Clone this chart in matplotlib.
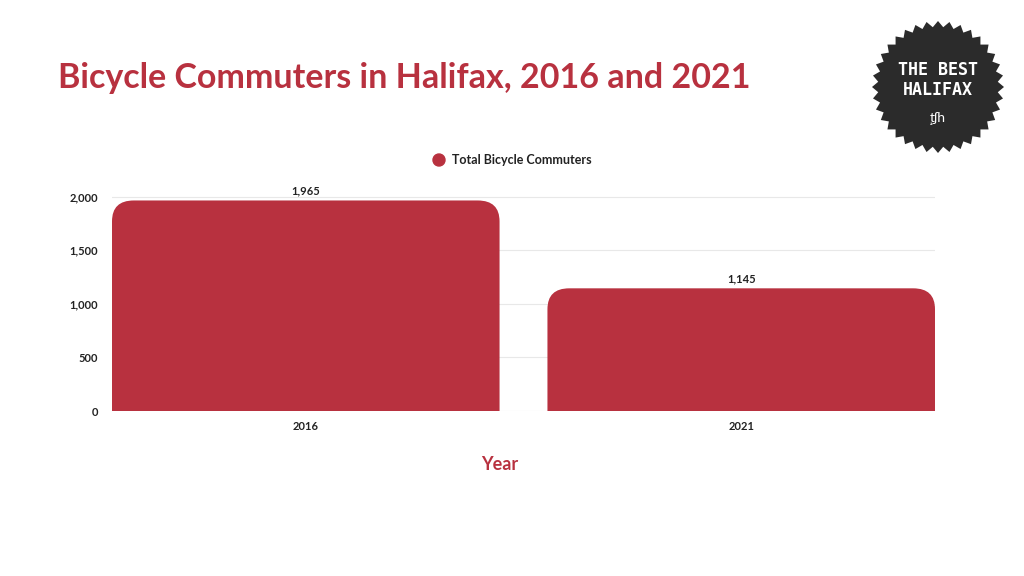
import matplotlib
matplotlib.use("Agg")
import matplotlib.pyplot as plt
import numpy as np
from matplotlib.patches import FancyBboxPatch, Polygon, Ellipse

years = ["2016", "2021"]
commuters = [1965, 1145]
yticks = [0, 500, 1000, 1500, 2000]

RED = "#B8313F"
plt.rcParams["font.family"] = ["Lato", "DejaVu Sans"]

fig = plt.figure(figsize=(10.24, 5.76), dpi=100)
ax = fig.add_axes([112 / 1024, 1 - 411 / 576, 823 / 1024, 225 / 576])

width = 0.89
rx = 0.05
ry = 195
for i, v in enumerate(commuters):
    p = FancyBboxPatch((i - width / 2, -ry * 2), width, v + ry * 2,
                       boxstyle=f"round,pad=0,rounding_size={rx}",
                       mutation_aspect=ry / rx, facecolor=RED, edgecolor="none",
                       zorder=3)
    ax.add_patch(p)
    ax.text(i, v + 40, f"{v:,}", ha="center", va="bottom", fontsize=8,
            fontweight="bold", color="#222222")

ax.set_xlim(-0.445, 1.445)
ax.set_ylim(0, 2100)
ax.set_xticks(range(len(years)))
ax.set_xticklabels(years, fontsize=8, fontweight="bold", color="#222222")
ax.set_yticks(yticks)
ax.set_yticklabels([f"{t:,}" for t in yticks], fontsize=8, fontweight="bold",
                   color="#222222")
ax.tick_params(axis="y", length=0, pad=10)
ax.tick_params(axis="x", length=0, pad=7)
ax.grid(axis="y", color="#e8e8e8", linewidth=0.8, zorder=0)
for s in ax.spines.values():
    s.set_visible(False)

fig.text(500 / 1024, 1 - 465 / 576, "Year", fontsize=13, fontweight="bold",
         color=RED, ha="center", va="center")

fig.text(58 / 1024, 1 - 78 / 576, "Bicycle Commuters in Halifax, 2016 and 2021",
         fontsize=24.5, fontweight="bold", color=RED, va="center")

# legend
fig.patches.append(Ellipse((439 / 1024, 1 - 160 / 576), 12 / 1024, 12 / 576,
                           transform=fig.transFigure, color=RED))
fig.text(452 / 1024, 1 - 160 / 576, "Total Bicycle Commuters", fontsize=9,
         fontweight="bold", color="#222222", va="center")

# badge
cx, cy = 938, 87
n = 36
ang = np.linspace(0, 2 * np.pi, 2 * n, endpoint=False)
rad = np.where(np.arange(2 * n) % 2 == 0, 66, 60)
pts = np.column_stack([(cx + rad * np.cos(ang)) / 1024,
                       1 - (cy + rad * np.sin(ang)) / 576])
fig.patches.append(Polygon(pts, closed=True, transform=fig.transFigure,
                           facecolor="#2b2b2b", edgecolor="none"))
fig.text(cx / 1024, 1 - 70 / 576, "THE BEST", fontsize=12, color="white",
         ha="center", va="center", family="DejaVu Sans Mono", fontweight="bold")
fig.text(cx / 1024, 1 - 90 / 576, "HALIFAX", fontsize=12, color="white",
         ha="center", va="center", family="DejaVu Sans Mono", fontweight="bold")
fig.text(cx / 1024, 1 - 118 / 576, "t\u0327\u0283h", fontsize=10, color="white",
         ha="center", va="center")

fig.savefig("out.png", dpi=100)
